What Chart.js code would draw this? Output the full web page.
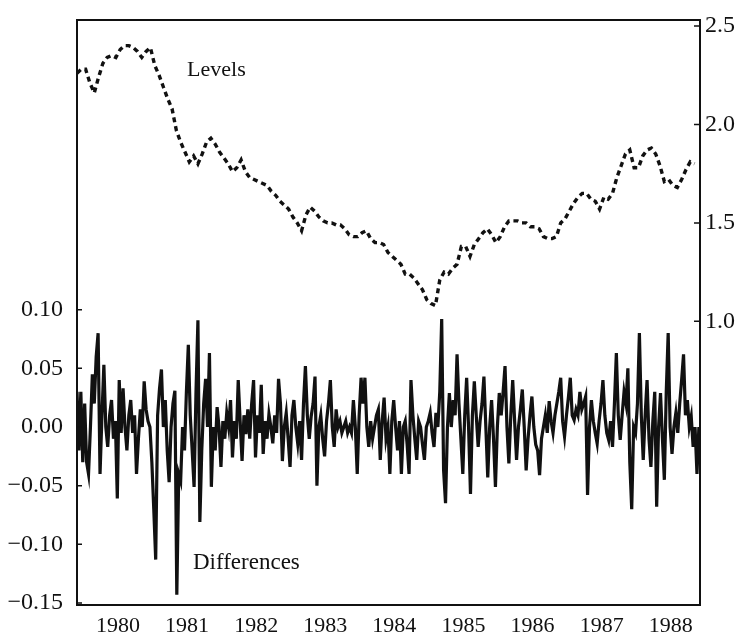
<!DOCTYPE html>
<html>
<head>
<meta charset="utf-8">
<title>Levels and Differences</title>
<script src="https://cdn.jsdelivr.net/npm/chart.js@4.4.1/dist/chart.umd.min.js"></script>
<style>
  html, body { margin: 0; padding: 0; background: #fff; }
  canvas { display: block; }
</style>
</head>
<body>
<canvas id="chart" width="739" height="643"></canvas>
<script>
// ===============================
// DATA
// ===============================

// first observation (in years) and sampling steps of the two series
const START = 1979.907;
const LEVEL_STEP = 1 / 16;
const DIFF_STEP = 1 / 36;

const years = ["1980", "1981", "1982", "1983", "1984", "1985", "1986", "1987", "1988"];
const leftTicks = [-0.15, -0.10, -0.05, 0.00, 0.05, 0.10];
const rightTicks = [1.0, 1.5, 2.0, 2.5];

// exchange rate level (right axis)
const levels = [
  2.26, 2.28, 2.28, 2.21, 2.16, 2.24, 2.31, 2.34, 2.35, 2.34,
  2.38, 2.40, 2.40, 2.39, 2.37, 2.34, 2.37, 2.39, 2.30, 2.25,
  2.19, 2.13, 2.08, 1.97, 1.91, 1.86, 1.81, 1.84, 1.80, 1.85,
  1.91, 1.93, 1.90, 1.86, 1.83, 1.80, 1.76, 1.78, 1.82, 1.76,
  1.73, 1.72, 1.71, 1.70, 1.69, 1.66, 1.64, 1.61, 1.59, 1.57,
  1.53, 1.50, 1.46, 1.54, 1.58, 1.56, 1.53, 1.51, 1.50, 1.50,
  1.49, 1.49, 1.47, 1.44, 1.43, 1.43, 1.45, 1.46, 1.42, 1.40,
  1.40, 1.39, 1.35, 1.33, 1.31, 1.29, 1.24, 1.24, 1.22, 1.19,
  1.16, 1.11, 1.09, 1.08, 1.21, 1.25, 1.24, 1.27, 1.29, 1.38,
  1.38, 1.33, 1.39, 1.42, 1.45, 1.47, 1.44, 1.40, 1.43, 1.48,
  1.51, 1.51, 1.51, 1.50, 1.50, 1.48, 1.48, 1.47, 1.43, 1.42,
  1.42, 1.43, 1.50, 1.52, 1.56, 1.60, 1.63, 1.65, 1.65, 1.62,
  1.61, 1.57, 1.63, 1.62, 1.65, 1.73, 1.79, 1.85, 1.87, 1.78,
  1.78, 1.84, 1.87, 1.88, 1.85, 1.79, 1.71, 1.72, 1.69, 1.68,
  1.72, 1.77, 1.81, 1.80
];

// period-to-period changes (left axis)
const differences = [
  0.03, -0.02, 0.03, -0.03, 0.02, -0.03, -0.04, 0.00, 0.045, 0.02, 0.06, 0.08,
  -0.04, 0.01, 0.053, 0.00, -0.017, 0.01, 0.023, -0.01, 0.005, -0.061, 0.04, -0.005,
  0.033, 0.00, -0.02, 0.01, 0.023, -0.005, 0.01, -0.04, -0.01, 0.015, 0.00, 0.039,
  0.015, 0.005, 0.00, -0.03, -0.07, -0.113, 0.01, 0.033, 0.049, 0.00, 0.023, -0.02,
  -0.047, 0.00, 0.02, 0.031, -0.143, -0.04, -0.046, 0.00, -0.02, 0.03, 0.07, 0.01,
  -0.02, -0.051, 0.03, 0.091, -0.081, -0.02, 0.02, 0.041, 0.00, 0.063, -0.051, 0.00,
  -0.02, 0.017, 0.00, -0.034, 0.005, -0.01, 0.012, 0.00, 0.023, -0.026, 0.005, -0.01,
  0.04, 0.005, -0.029, 0.01, -0.006, 0.015, -0.01, 0.02, 0.04, -0.026, 0.01, -0.005,
  0.036, -0.023, 0.005, -0.01, 0.011, 0.00, -0.014, 0.01, -0.005, 0.041, 0.02, -0.029,
  0.00, 0.012, -0.01, -0.034, 0.01, 0.023, 0.00, -0.014, 0.005, -0.028, 0.02, 0.052,
  0.01, -0.01, 0.009, 0.02, 0.043, -0.05, 0.00, 0.01, -0.01, -0.025, 0.005, 0.02,
  0.04, 0.00, -0.017, 0.015, 0.00, 0.005, -0.005, 0.00, 0.005, -0.005, 0.00, -0.005,
  0.023, 0.00, -0.04, 0.01, 0.042, 0.02, 0.042, 0.00, -0.017, 0.005, -0.01, 0.00,
  0.01, 0.015, -0.028, 0.005, 0.025, -0.01, 0.00, -0.04, 0.005, 0.023, 0.00, -0.02,
  0.005, -0.04, 0.00, 0.005, -0.015, -0.04, 0.04, 0.01, -0.01, -0.028, 0.005, 0.00,
  -0.015, -0.028, 0.00, 0.005, 0.012, -0.005, -0.017, 0.012, 0.00, 0.03, 0.092, -0.037,
  -0.065, 0.00, 0.029, 0.00, 0.023, 0.01, 0.062, 0.02, -0.01, -0.04, 0.01, 0.042,
  0.00, -0.057, 0.01, 0.039, 0.01, -0.017, 0.005, 0.02, 0.043, 0.00, -0.043, 0.00,
  0.023, -0.01, -0.051, 0.00, 0.029, 0.01, 0.03, 0.052, 0.00, -0.031, 0.01, 0.04,
  0.005, -0.028, 0.00, 0.015, 0.032, 0.00, -0.037, -0.01, 0.01, 0.026, 0.00, -0.015,
  -0.02, -0.041, -0.01, 0.00, 0.01, -0.005, 0.022, 0.005, -0.005, 0.01, 0.02, 0.03,
  0.042, 0.005, -0.008, 0.01, 0.025, 0.042, 0.01, 0.006, 0.015, 0.01, 0.03, 0.015,
  0.02, 0.026, -0.058, 0.00, 0.023, 0.005, -0.005, -0.014, 0.005, 0.02, 0.04, 0.01,
  -0.005, -0.011, 0.005, -0.017, 0.02, 0.063, 0.01, -0.011, 0.01, 0.03, 0.02, 0.05,
  -0.03, -0.07, 0.00, -0.005, 0.02, 0.08, 0.01, -0.028, 0.01, 0.04, -0.01, -0.034,
  0.005, 0.03, -0.068, 0.00, 0.029, -0.01, -0.045, 0.03, 0.08, 0.00, -0.023, 0.00,
  0.012, -0.005, 0.02, 0.04, 0.062, 0.01, 0.023, 0.00, 0.009, -0.017, 0.00, -0.04,
  0.00
];

// where the two series names sit (x in years, y in axis units)
const levelsLabel = { text: "Levels", x: 1981.50, y: 2.274 };
const diffsLabel = { text: "Differences", x: 1981.585, y: -0.116 };

const INK = "#111";
const SERIF = "'Liberation Serif', 'Times New Roman', serif";


// ===============================
// FRAME, INWARD TICKS AND LABELS
// ===============================

const framePlugin = {
  id: "frame",
  afterDatasetsDraw(chart) {
    const { ctx, chartArea: a, scales } = chart;
    ctx.save();
    ctx.strokeStyle = INK;
    ctx.lineWidth = 2;
    ctx.strokeRect(a.left, a.top, a.right - a.left, a.bottom - a.top);

    ctx.lineWidth = 1.5;
    ctx.beginPath();
    scales.yLeft.ticks.forEach(t => {
      const y = scales.yLeft.getPixelForValue(t.value);
      ctx.moveTo(a.left, y);
      ctx.lineTo(a.left + 5, y);
    });
    scales.yRight.ticks.forEach(t => {
      const y = scales.yRight.getPixelForValue(t.value);
      ctx.moveTo(a.right, y);
      ctx.lineTo(a.right - 6, y);
    });
    ctx.stroke();

    ctx.fillStyle = INK;
    ctx.textAlign = "left";
    ctx.textBaseline = "middle";
    ctx.font = "22px " + SERIF;
    ctx.fillText(levelsLabel.text,
      scales.x.getPixelForValue(levelsLabel.x),
      scales.yRight.getPixelForValue(levelsLabel.y));
    ctx.font = "23px " + SERIF;
    ctx.fillText(diffsLabel.text,
      scales.x.getPixelForValue(diffsLabel.x),
      scales.yLeft.getPixelForValue(diffsLabel.y));
    ctx.restore();
  }
};

// fixed box sizes so the plot frame stays put whatever the labels need
function fixSize(size, vertical) {
  return scale => {
    if (vertical) {
      scale.width = size;
      scale.paddingTop = 0;
      scale.paddingBottom = 0;
    } else {
      scale.height = size;
      scale.paddingLeft = 0;
      scale.paddingRight = 0;
    }
  };
}


// ===============================
// CHART
// ===============================

new Chart(document.getElementById("chart"), {
  type: "line",
  data: {
    datasets: [
      {
        label: "Levels",
        data: levels.map((v, i) => ({ x: START + i * LEVEL_STEP, y: v })),
        yAxisID: "yRight",
        borderColor: INK,
        borderWidth: 3.4,
        borderDash: [5, 4],
        pointRadius: 0,
        tension: 0,
        fill: false
      },
      {
        label: "Differences",
        data: differences.map((v, i) => ({ x: START + i * DIFF_STEP, y: v })),
        yAxisID: "yLeft",
        borderColor: INK,
        borderWidth: 3.2,
        pointRadius: 0,
        tension: 0,
        fill: false
      }
    ]
  },
  options: {
    responsive: false,
    animation: false,
    layout: { padding: { top: 20, left: 0, right: 0, bottom: 0 } },
    plugins: {
      legend: { display: false },
      tooltip: { enabled: false }
    },
    scales: {
      x: {
        type: "linear",
        min: 1979.907,
        max: 1988.923,
        grid: { display: false, drawTicks: false },
        border: { display: false },
        afterBuildTicks: scale => {
          scale.ticks = years.map(y => ({ value: Number(y) + 0.5 }));
        },
        afterFit: fixSize(38, false),
        ticks: {
          color: INK,
          padding: 8,
          maxRotation: 0,
          autoSkip: false,
          font: { family: SERIF, size: 22 },
          callback: (value, index) => years[index]
        }
      },
      yLeft: {
        type: "linear",
        position: "left",
        min: -0.1517,
        max: 0.3469,
        grid: { display: false, drawTicks: false },
        border: { display: false },
        afterBuildTicks: scale => {
          scale.ticks = leftTicks.map(v => ({ value: v }));
        },
        afterFit: fixSize(77, true),
        ticks: {
          color: INK,
          padding: 14,
          autoSkip: false,
          font: { family: SERIF, size: 24 },
          callback: v => (v < 0 ? "\u2212" : "") + Math.abs(v).toFixed(2)
        }
      },
      yRight: {
        type: "linear",
        position: "right",
        min: -0.44,
        max: 2.53,
        grid: { display: false, drawTicks: false },
        border: { display: false },
        afterBuildTicks: scale => {
          scale.ticks = rightTicks.map(v => ({ value: v }));
        },
        afterFit: fixSize(39, true),
        ticks: {
          color: INK,
          padding: 5,
          autoSkip: false,
          font: { family: SERIF, size: 24 },
          callback: v => v.toFixed(1)
        }
      }
    }
  },
  plugins: [framePlugin]
});
</script>
</body>
</html>
